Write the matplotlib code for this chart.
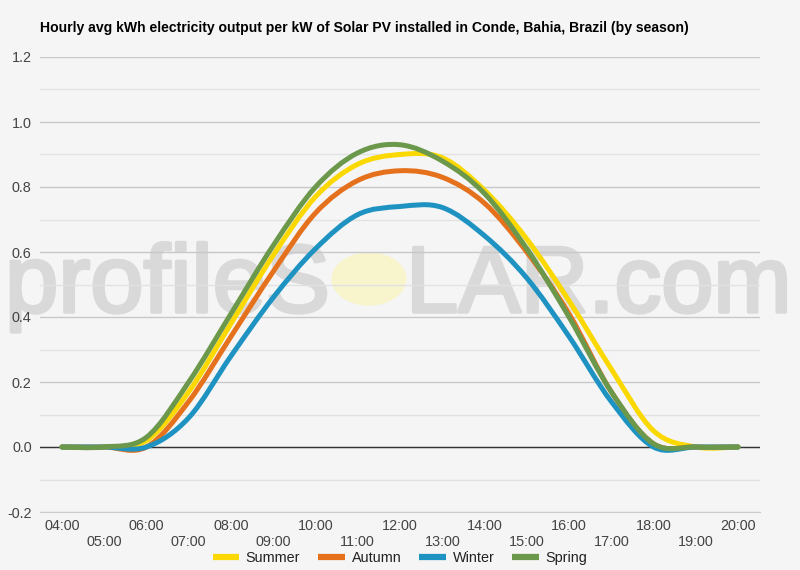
import matplotlib
matplotlib.use("Agg")
import matplotlib.pyplot as plt
import matplotlib.patheffects as pe
from matplotlib.path import Path
from matplotlib.patches import PathPatch, Circle
from matplotlib.lines import Line2D
from matplotlib.ticker import MultipleLocator

plt.rcParams['font.family'] = ['Liberation Sans', 'DejaVu Sans']

# hourly data, 04:00 .. 20:00
hours = [4, 5, 6, 7, 8, 9, 10, 11, 12, 13, 14, 15, 16, 17, 18, 19, 20]
hour_labels = ['%02d:00' % h for h in hours]

summer = [0, 0, 0.02, 0.17, 0.38, 0.59, 0.77, 0.87, 0.90, 0.89, 0.79, 0.64, 0.45, 0.24, 0.05, 0.0, 0.0]
autumn = [0, 0, 0.0, 0.14, 0.34, 0.54, 0.72, 0.82, 0.85, 0.83, 0.75, 0.60, 0.41, 0.17, 0.01, 0.0, 0.0]
winter = [0, 0, 0.0, 0.09, 0.28, 0.46, 0.61, 0.715, 0.74, 0.737, 0.65, 0.52, 0.34, 0.14, 0.0, 0.0, 0.0]
spring = [0, 0, 0.03, 0.20, 0.41, 0.62, 0.80, 0.905, 0.93, 0.88, 0.78, 0.61, 0.40, 0.17, 0.01, 0.0, 0.0]

seasons = ['Summer', 'Autumn', 'Winter', 'Spring']
season_data = [summer, autumn, winter, spring]
season_colors = ['#FAD800', '#E5711D', '#1E93C2', '#6C984C']

bg = '#f5f5f5'
fs = 10.4


def smooth_path(xs, ys):
    # cubic bezier through the points (catmull-rom style control points)
    n = len(xs)
    verts = [(xs[0], ys[0])]
    codes = [Path.MOVETO]
    for i in range(n - 1):
        x0, y0 = xs[max(i - 1, 0)], ys[max(i - 1, 0)]
        x1, y1 = xs[i], ys[i]
        x2, y2 = xs[i + 1], ys[i + 1]
        x3, y3 = xs[min(i + 2, n - 1)], ys[min(i + 2, n - 1)]
        c1 = (x1 + (x2 - x0) / 6.0, y1 + (y2 - y0) / 6.0)
        c2 = (x2 - (x3 - x1) / 6.0, y2 - (y3 - y1) / 6.0)
        verts += [c1, c2, (x2, y2)]
        codes += [Path.CURVE4] * 3
    return Path(verts, codes)


fig = plt.figure(figsize=(8, 5.7), dpi=100, facecolor=bg)

# watermark, under the (transparent) axes
wm_col = '#d9d9d9'
wm_y = 1 - 312 / 570
thick = [pe.Stroke(linewidth=2.5, foreground=wm_col), pe.Normal()]
fig.text(330 / 800, wm_y, 'profileS', ha='right', va='baseline', fontsize=69,
         color=wm_col, zorder=0, path_effects=thick)
fig.text(406 / 800, wm_y, 'LAR.com', ha='left', va='baseline', fontsize=67.5,
         color=wm_col, zorder=0, path_effects=thick)
fig.patches.append(Circle((369 / 800, 1 - 279 / 570), 37.5 / 800, transform=fig.transFigure,
                          facecolor='#f8f4cc', edgecolor='none', zorder=0))

ax = fig.add_axes([0.05, 1 - 512 / 570, 0.90, (512 - 57) / 570], zorder=1)
ax.patch.set_alpha(0)

for name, vals, col in zip(seasons, season_data, season_colors):
    patch = PathPatch(smooth_path(hours, vals), facecolor='none', edgecolor=col,
                      lw=3.6, capstyle='round', joinstyle='round', zorder=3)
    ax.add_patch(patch)

ax.set_xlim(3.48, 20.52)
ax.set_ylim(-0.2, 1.2)

# grid
ax.yaxis.set_major_locator(MultipleLocator(0.2))
ax.yaxis.set_minor_locator(MultipleLocator(0.1))
ax.grid(True, which='major', axis='y', color='#c8c8c8', lw=1, zorder=0)
ax.grid(True, which='minor', axis='y', color='#e2e2e2', lw=1, zorder=0)
ax.axhline(0, color='#333333', lw=1, zorder=2)
for s in ['top', 'right', 'left']:
    ax.spines[s].set_visible(False)
ax.spines['bottom'].set_color('#cccccc')

ax.set_yticks([-0.2, 0.0, 0.2, 0.4, 0.6, 0.8, 1.0, 1.2])
ax.set_yticklabels(['-0.2', '0.0', '0.2', '0.4', '0.6', '0.8', '1.0', '1.2'])
ax.tick_params(axis='y', which='both', length=0, pad=6, labelsize=fs, labelcolor='#444444')

# alternate hour labels on two rows
ax.set_xticks(hours[::2])
ax.set_xticklabels(hour_labels[::2])
ax.set_xticks(hours[1::2], minor=True)
ax.set_xticklabels(hour_labels[1::2], minor=True)
ax.tick_params(axis='x', which='major', length=0, pad=5, labelsize=fs, labelcolor='#444444')
ax.tick_params(axis='x', which='minor', length=0, pad=16.5, labelsize=fs, labelcolor='#444444')

fig.text(0.05, 1 - 28 / 570,
         'Hourly avg kWh electricity output per kW of Solar PV installed in Conde, Bahia, Brazil (by season)',
         ha='left', va='center', fontsize=10.1, fontweight='bold', color='#000000')

handles = [Line2D([0], [0], color=c, lw=4.5, solid_capstyle='butt') for c in season_colors]
fig.legend(handles, seasons, loc='center', bbox_to_anchor=(0.5, 1 - 558 / 570), ncol=4,
           frameon=False, fontsize=fs, handlelength=1.85, handletextpad=0.45,
           columnspacing=1.25, labelcolor='#222222', borderpad=0)

fig.savefig('out.png', dpi=100, facecolor=bg)
